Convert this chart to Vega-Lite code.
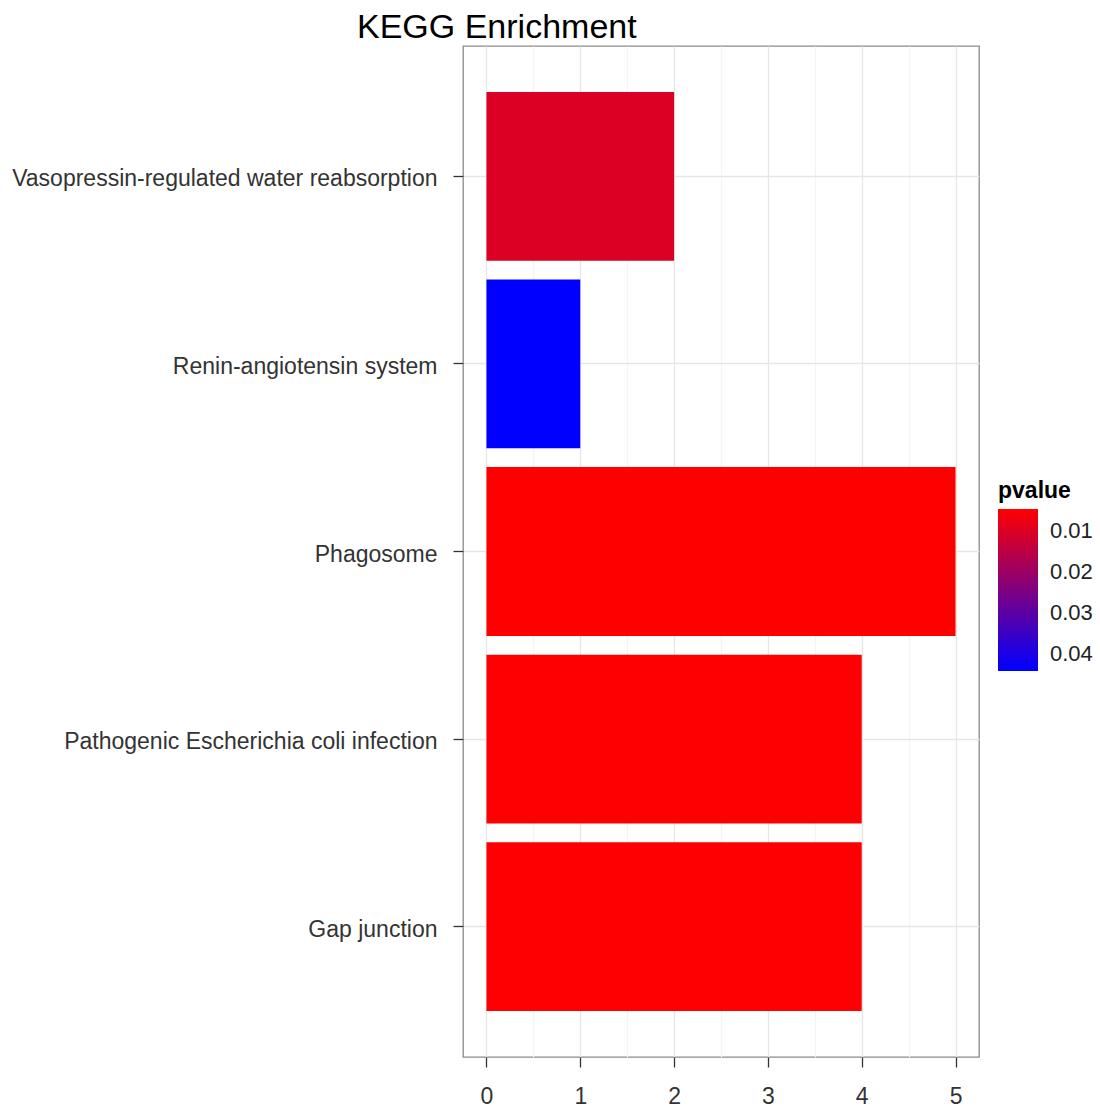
{
  "$schema": "https://vega.github.io/schema/vega-lite/v6.json",
  "width": 516,
  "height": 1011,
  "autosize": {"type": "none"},
  "padding": {"left": 463, "top": 46, "right": 121, "bottom": 56},
  "background": "white",
  "title": {
    "text": "KEGG Enrichment",
    "anchor": "start",
    "frame": "group",
    "dx": -106,
    "offset": 1,
    "fontSize": 34,
    "fontWeight": "normal",
    "font": "Liberation Sans",
    "color": "#000000"
  },
  "data": {
    "values": [
      {"term": "Vasopressin-regulated water reabsorption", "count": 2, "pvalue": 0.0102},
      {"term": "Renin-angiotensin system", "count": 1, "pvalue": 0.0441},
      {"term": "Phagosome", "count": 5, "pvalue": 0.0046},
      {"term": "Pathogenic Escherichia coli infection", "count": 4, "pvalue": 0.0047},
      {"term": "Gap junction", "count": 4, "pvalue": 0.0047}
    ]
  },
  "layer": [
    {
      "mark": {"type": "bar", "opacity": 0},
      "encoding": {
        "x": {
          "field": "count",
          "type": "quantitative",
          "scale": {"domain": [-0.25, 5.25], "nice": false, "zero": false},
          "axis": {
            "orient": "top",
            "values": [0.5, 1.5, 2.5, 3.5, 4.5],
            "grid": true,
            "gridColor": "#f4f4f4",
            "gridWidth": 1.2,
            "ticks": false,
            "labels": false,
            "domain": false,
            "title": null
          }
        },
        "y": {
          "field": "term",
          "type": "nominal",
          "sort": null,
          "scale": {"paddingInner": 0.1, "paddingOuter": 0.245}
        }
      }
    },
    {
      "mark": {"type": "bar"},
      "encoding": {
        "x": {
          "field": "count",
          "type": "quantitative",
          "scale": {"domain": [-0.25, 5.25], "nice": false, "zero": false},
          "axis": {
            "orient": "bottom",
            "values": [0, 1, 2, 3, 4, 5],
            "grid": true,
            "gridColor": "#e6e6e6",
            "gridWidth": 1.3,
            "domain": false,
            "tickSize": 10,
            "tickColor": "#333333",
            "tickWidth": 1.3,
            "labelFontSize": 23,
            "labelColor": "#333333",
            "labelFont": "Liberation Sans",
            "labelPadding": 18,
            "title": null
          }
        },
        "y": {
          "field": "term",
          "type": "nominal",
          "sort": null,
          "scale": {"paddingInner": 0.1, "paddingOuter": 0.245},
          "axis": {
            "bandPosition": 0.5,
            "grid": true,
            "gridColor": "#e6e6e6",
            "gridWidth": 1.3,
            "domain": false,
            "tickSize": 10,
            "tickColor": "#333333",
            "tickWidth": 1.3,
            "labelFontSize": 23,
            "labelColor": "#333333",
            "labelFont": "Liberation Sans",
            "labelPadding": 16,
            "labelOffset": 3,
            "labelLimit": 600,
            "title": null
          }
        },
        "color": {
          "field": "pvalue",
          "type": "quantitative",
          "scale": {
            "type": "linear",
            "domain": [0.0441, 0.0046],
            "range": ["#0000FF", "#FF0000"],
            "interpolate": "rgb",
            "nice": false,
            "zero": false
          },
          "legend": {
            "orient": "none",
            "legendX": 535,
            "legendY": 434,
            "direction": "vertical",
            "title": "pvalue",
            "titleFontSize": 23,
            "titleFontWeight": "bold",
            "titleFont": "Liberation Sans",
            "titleColor": "#000000",
            "titlePadding": 6,
            "gradientLength": 162,
            "gradientThickness": 40,
            "gradientStrokeWidth": 0,
            "values": [0.01, 0.02, 0.03, 0.04],
            "labelFontSize": 22,
            "labelFont": "Liberation Sans",
            "labelColor": "#222222",
            "labelOffset": 12,
            "labelOverlap": false,
            "format": ".2f"
          }
        }
      }
    }
  ],
  "resolve": {"axis": {"x": "independent"}},
  "config": {
    "font": "Liberation Sans",
    "view": {"stroke": "#8a8a8a", "strokeWidth": 1.3}
  }
}
